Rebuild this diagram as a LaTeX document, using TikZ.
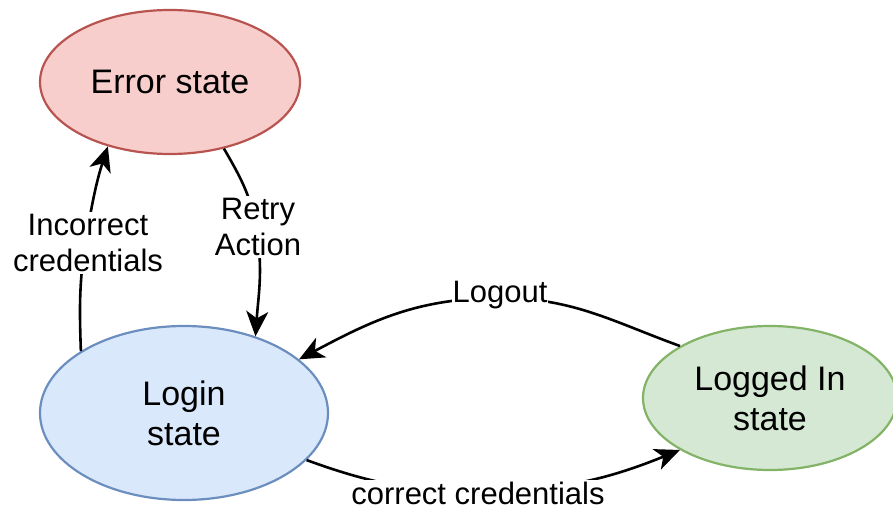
\documentclass[tikz,border=0pt]{standalone}
\usepackage{fontspec}
\setmainfont{Liberation Sans}
\usetikzlibrary{arrows.meta,shapes.geometric}

\definecolor{errfill}{HTML}{F8CECC}
\definecolor{errline}{HTML}{B85450}
\definecolor{loginfill}{HTML}{DAE8FC}
\definecolor{loginline}{HTML}{6C8EBF}
\definecolor{okfill}{HTML}{D5E8D4}
\definecolor{okline}{HTML}{82B366}

\tikzset{
  statenode/.style={ellipse, draw, line width=2.2pt, inner sep=0pt, align=center,
    font=\fontsize{34}{40}\selectfont},
  edge/.style={line width=2.6pt, -{Stealth[length=25pt,width=22pt,inset=7pt]}},
  lbl/.style={fill=white, inner xsep=1pt, inner ysep=2pt, align=center,
    font=\fontsize{31}{36}\selectfont}
}

\begin{document}
\begin{tikzpicture}[x=1pt,y=1pt]
  \useasboundingbox (0,0) rectangle (893,509);

  % states
  \node[statenode, fill=errfill, draw=errline, minimum width=260pt, minimum height=144pt]
    (Error) at (170,427) {Error state};
  \node[statenode, fill=loginfill, draw=loginline, minimum width=288pt, minimum height=174pt]
    (Login) at (184,96) {Login\\state};
  \node[statenode, fill=okfill, draw=okline, minimum width=254pt, minimum height=144pt]
    (LoggedIn) at (770,111) {Logged In\\state};

  % points where the transition labels sit
  \coordinate (vInc) at (85,265);
  \coordinate (vRetry) at (256,282);
  \coordinate (vLogout) at (500,211);
  \coordinate (vCorrect) at (478,18);

  % transitions
  \draw[edge] (Login.149) to[out=92,in=262] (vInc) to[out=80,in=252] (Error.226);
  \draw[edge] (Error.-51) to[out=-60,in=100] (vRetry) to[out=-80,in=86] (Login.47);
  \draw[edge] (LoggedIn.150) to[out=160,in=0] (vLogout) to[out=180,in=28] (Login.25);
  \draw[edge] (Login.-21) to[out=-20,in=180] (vCorrect) to[out=0,in=202] (LoggedIn.210);

  % transition labels
  \node[lbl] (lInc) at (88,266) {Incorrect\\credentials};
  \node[lbl] (lRetry) at (258,282) {Retry\\Action};
  \node[lbl] (lLogout) at (500,214) {Logout};
  \node[lbl] (lCorrect) at (478,16) {correct credentials};
\end{tikzpicture}
\end{document}
